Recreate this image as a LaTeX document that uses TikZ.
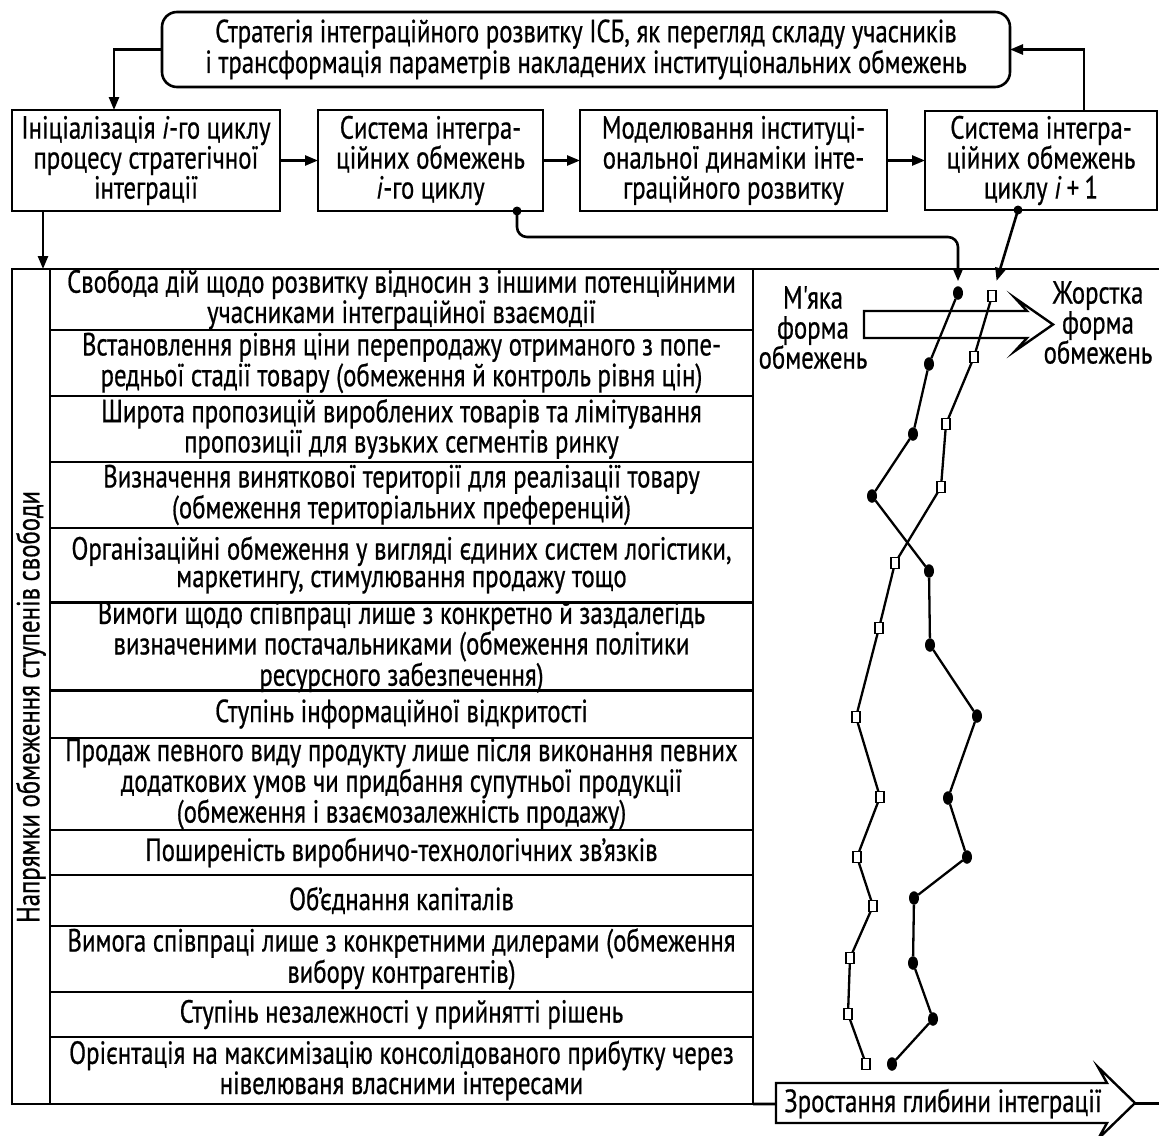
\documentclass[tikz,border=0pt]{standalone}
\usepackage{fontspec}
\setmainfont{PT Sans}[FakeStretch=0.775, FakeBold=0.6, Ligatures=TeXOff]
\usetikzlibrary{shapes.geometric,arrows.meta,calc}
\begin{document}
\begin{tikzpicture}[x=1pt,y=-1pt,
  every node/.style={font=\fontsize{32pt}{27.5pt}\selectfont, inner sep=0pt, outer sep=0pt, align=center},
  box/.style={draw, line width=2.6pt, rectangle, font=\fontsize{32pt}{30pt}\selectfont},
  rowbox/.style={draw, line width=2.6pt, rectangle, minimum width=703pt, inner ysep=-10pt},
  tight/.style={font=\fontsize{32pt}{26.5pt}\selectfont},
  arr/.style={line width=2.6pt, -{Triangle[length=13pt,width=10pt]}},
  dotm/.style={ellipse, fill=black, minimum width=10pt, minimum height=13.5pt},
  sqm/.style={rectangle, draw, fill=white, line width=1.9pt, minimum width=8pt, minimum height=11pt},
  chart/.style={line width=2.3pt},
  bigarrow/.style={line width=2.4pt, line join=miter},
  lbl/.style={font=\fontsize{32pt}{30pt}\selectfont}
]
\useasboundingbox (0,0) rectangle (1159,1135);

% top row of boxes
\node[box, rounded corners=15pt, minimum width=848pt, minimum height=75pt, font=\fontsize{32pt}{29pt}\selectfont] (top) at (586,49.5)
  {Стратегія інтеграційного розвитку ІСБ, як перегляд складу учасників\\і трансформація параметрів накладених інституціональних обмежень};
\node[box, minimum width=268pt, minimum height=101pt] (b1) at (146,160.5)
  {Ініціалізація \textit{i}-го циклу\\процесу стратегічної\\інтеграції};
\node[box, minimum width=225pt, minimum height=101pt] (b2) at (430.5,160.5)
  {Система інтегра-\\ційних обмежень\\\textit{i}-го циклу};
\node[box, minimum width=307pt, minimum height=101pt] (b3) at (733.5,160.5)
  {Моделювання інституці-\\ональної динаміки інте-\\граційного розвитку};
\node[box, minimum width=232pt, minimum height=99pt] (b4) at (1041,160.5)
  {Система інтегра-\\ційних обмежень\\циклу \textit{i}\,+\,1};

% table frame
\node[draw, line width=2.6pt, minimum width=741pt, minimum height=835pt] (tbl) at (382.5,686.5) {};
\node[rotate=90] (lab) at (31,707) {Напрямки обмеження ступенів свободи};

\node[rowbox, minimum height=61pt] (r1) at (401.5,299.5)
  {Свобода дій щодо розвитку відносин з іншими потенційними\\учасниками інтеграційної взаємодії};
\node[rowbox, minimum height=66pt] (r2) at (401.5,363)
  {Встановлення рівня ціни перепродажу отриманого з попе-\\редньої стадії товару (обмеження й контроль рівня цін)};
\node[rowbox, minimum height=66pt] (r3) at (401.5,429)
  {Широта пропозицій вироблених товарів та лімітування\\пропозиції для вузьких сегментів ринку};
\node[rowbox, minimum height=66pt] (r4) at (401.5,495)
  {Визначення виняткової території для реалізації товару\\(обмеження територіальних преференцій)};
\node[rowbox, minimum height=74pt] (r5) at (401.5,565)
  {Організаційні обмеження у вигляді єдиних систем логістики,\\маркетингу, стимулювання продажу тощо};
\node[rowbox, tight, minimum height=88pt] (r6) at (401.5,647)
  {Вимоги щодо співпраці лише з конкретно й заздалегідь\\визначеними постачальниками (обмеження політики\\ресурсного забезпечення)};
\node[rowbox, minimum height=48pt] (r7) at (401.5,714)
  {Ступінь інформаційної відкритості};
\node[rowbox, tight, minimum height=92pt] (r8) at (401.5,784)
  {Продаж певного виду продукту лише після виконання певних\\додаткових умов чи придбання супутньої продукції\\(обмеження і взаємозалежність продажу)};
\node[rowbox, minimum height=45pt] (r9) at (401.5,852.5)
  {Поширеність виробничо-технологічних зв’язків};
\node[rowbox, minimum height=51pt] (r10) at (401.5,900.5)
  {Об’єднання капіталів};
\node[rowbox, minimum height=66pt] (r11) at (401.5,959)
  {Вимога співпраці лише з конкретними дилерами (обмеження\\вибору контрагентів)};
\node[rowbox, minimum height=45pt] (r12) at (401.5,1014.5)
  {Ступінь незалежності у прийнятті рішень};
\node[rowbox, minimum height=67pt] (r13) at (401.5,1070.5)
  {Орієнтація на максимізацію консолідованого прибутку через\\нівелюваня власними інтересами};

% chart frame
\coordinate (tr) at (1159,269);
\coordinate (axR) at (1159,1103.5);
\draw[line width=2.6pt] (tbl.north east) -- (tr);
\draw[line width=2.6pt] (tbl.south east) -- (axR);

% bottom big arrow
\draw[bigarrow, fill=white] (776,1083) -- (1107,1083) -- (1098,1067) -- (1135,1103) -- (1098,1139) -- (1107,1123) -- (776,1123) -- cycle;
\node[anchor=base] (grow) at (943,1112) {Зростання глибини інтеграції};

% soft -> hard arrow
\draw[bigarrow] (864,311) -- (1027,311) -- (1015,298) -- (1053,324.5) -- (1015,351) -- (1027,338) -- (864,338) -- cycle;
\node[lbl] (soft) at (813,327.5) {М'яка\\форма\\обмежень};
\node[lbl] (hard) at (1098,322.5) {Жорстка\\форма\\обмежень};

% markers
\foreach \n/\x/\y in {1/958/293, 2/929/364, 3/913/434, 4/872/496, 5/929/571, 6/930/645, 7/977/716,
  8/948/798, 9/967/857, 10/914/898, 11/913/963, 12/933/1019, 13/892/1064}
  \node[dotm] (c\n) at (\x,\y) {};
\foreach \n/\x/\y in {1/992/296, 2/974/357, 3/946/424, 4/941/487, 5/895/563, 6/879/628, 7/856/717,
  8/880/797, 9/857/857, 10/873/906, 11/850/958, 12/848/1014, 13/866/1064}
  \node[sqm] (s\n) at (\x,\y) {};

\draw[chart] (c1) -- (c2) -- (c3) -- (c4) -- (c5) -- (c6) -- (c7) -- (c8) -- (c9) -- (c10) -- (c11) -- (c12) -- (c13);
\draw[chart] (s1) -- (s2) -- (s3) -- (s4) -- (s5) -- (s6) -- (s7) -- (s8) -- (s9) -- (s10) -- (s11) -- (s12) -- (s13);

% connectors
\draw[arr] (top.west) -| ([xshift=102pt]b1.north west);
\draw[arr] (b1) -- (b2);
\draw[arr] (b2) -- (b3);
\draw[arr] (b3) -- (b4);
\draw[arr] ([xshift=43pt]b4.north) |- (top.east);
\draw[arr] ([xshift=31pt]b1.south west) -- ([xshift=31pt]tbl.north west);

\fill ([xshift=86.5pt]b2.south) circle (4.5pt);
\draw[arr, rounded corners=10pt] ([xshift=86.5pt]b2.south) -- ++(0,26) -| ([yshift=5pt]c1.north);
\fill ([xshift=-23pt]b4.south) circle (4.5pt);
\draw[arr, shorten >=10pt] ([xshift=-23pt]b4.south) -- (s1);
\end{tikzpicture}
\end{document}
